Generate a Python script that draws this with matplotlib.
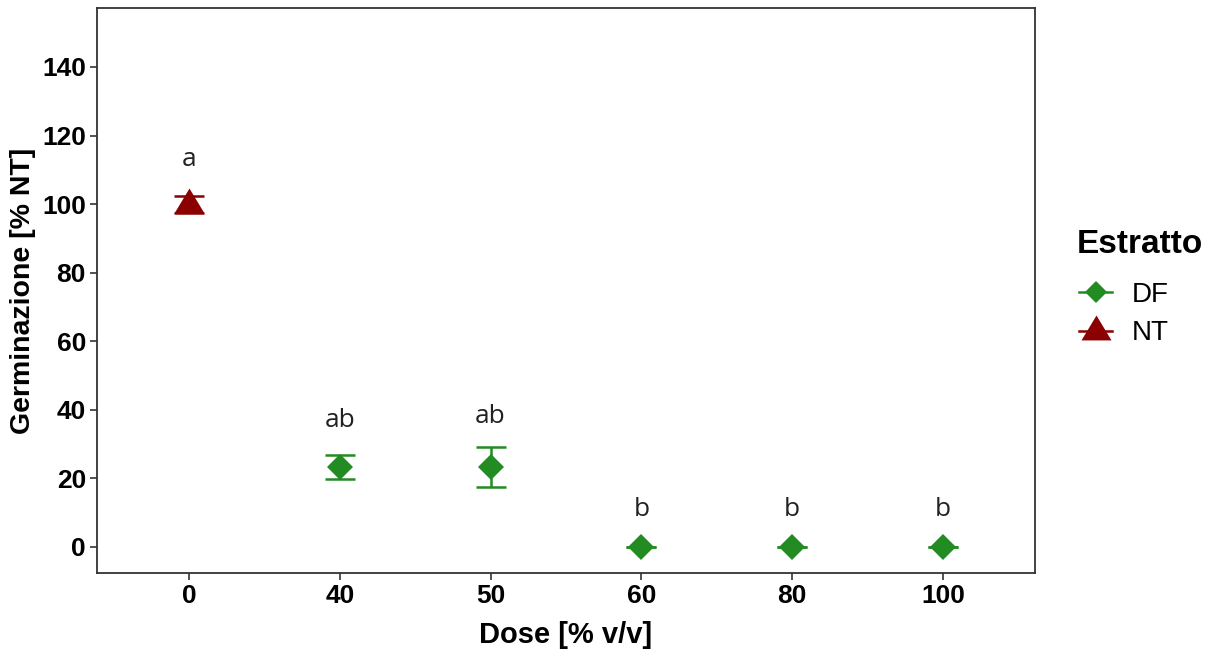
import numpy as np
import matplotlib.pyplot as plt
import matplotlib.font_manager as fm
from matplotlib.lines import Line2D
from matplotlib.path import Path

doses = ['0', '40', '50', '60', '80', '100']
estratto = ['NT', 'DF', 'DF', 'DF', 'DF', 'DF']
germ = [100.0, 23.2, 23.3, 0.0, 0.0, 0.0]
err = [2.5, 3.5, 5.8, 0.0, 0.0, 0.0]
letters = ['a', 'ab', 'ab', 'b', 'b', 'b']
letter_y = [113, 37, 38, 11, 11, 11]

# triangle like R's pch 17 (centred a bit below the middle)
tri = Path([(0, 1), (-0.94, -0.56), (0.94, -0.56), (0, 1)],
           [Path.MOVETO, Path.LINETO, Path.LINETO, Path.CLOSEPOLY])

colors = {'DF': '#228B22', 'NT': '#8B0000'}
markers = {'DF': 'D', 'NT': tri}
msizes = {'DF': 13, 'NT': 23}
leg_msizes = {'DF': 11, 'NT': 23}


def font_file(name):
    for f in fm.fontManager.ttflist:
        if f.fname.endswith(name):
            return f.fname
    return None


reg_path = font_file('LiberationSans-Regular.ttf')
bold_path = font_file('LiberationSans-Bold.ttf')


def fp(bold, size):
    path = bold_path if bold else reg_path
    if path:
        return fm.FontProperties(fname=path, size=size)
    return fm.FontProperties(family='DejaVu Sans', size=size,
                             weight='bold' if bold else 'normal')


fig = plt.figure(figsize=(12.18, 6.51), dpi=100)
ax = fig.add_axes([97/1218, 1 - 573/651, (1035-97)/1218, (573-8)/651])

x = np.arange(len(doses))
for grp in ['DF', 'NT']:
    idx = [i for i, e in enumerate(estratto) if e == grp]
    ax.errorbar(x[idx], [germ[i] for i in idx], yerr=[err[i] for i in idx],
                fmt='none', ecolor=colors[grp], elinewidth=1.8, capsize=11,
                capthick=1.8, zorder=2)
    ax.plot(x[idx], [germ[i] for i in idx], ls='none', marker=markers[grp],
            ms=msizes[grp], color=colors[grp], mew=0, zorder=3)

for i in range(len(doses)):
    ax.text(x[i], letter_y[i], letters[i], ha='center', va='center',
            fontsize=19, color='#222222', family=['Open Sans', 'DejaVu Sans'])

ax.set_xlim(-0.61, 5.61)
ax.set_ylim(-7.6, 157.2)
ax.set_xticks(x)
ax.set_xticklabels(doses)
ax.set_yticks(np.arange(0, 141, 20))
ax.tick_params(axis='both', length=5, width=1.2, color='#333333',
               direction='out', pad=3)
for lab in ax.get_xticklabels() + ax.get_yticklabels():
    lab.set_fontproperties(fp(True, 19))
for s in ax.spines.values():
    s.set_linewidth(1.3)
    s.set_color('#333333')

ax.set_xlabel('Dose [% v/v]', fontproperties=fp(True, 21), labelpad=9)
ax.set_ylabel('Germinazione [% NT]', fontproperties=fp(True, 20.5), labelpad=4)

fig.text(1077/1218, 1 - 244/651, 'Estratto', fontproperties=fp(True, 24),
         ha='left', va='center')
handles = [Line2D([], [], color=colors[g], marker=markers[g],
                  ms=leg_msizes[g], mew=0, lw=1.8) for g in ['DF', 'NT']]
leg = fig.legend(handles, ['DF', 'NT'],
                 loc='upper left', bbox_to_anchor=(1079/1218, 1 - 282/651),
                 frameon=False, prop=fp(False, 20), borderpad=0,
                 borderaxespad=0, handlelength=1.2, handletextpad=0.7,
                 labelspacing=0.45)

fig.savefig('out.png', dpi=100)
